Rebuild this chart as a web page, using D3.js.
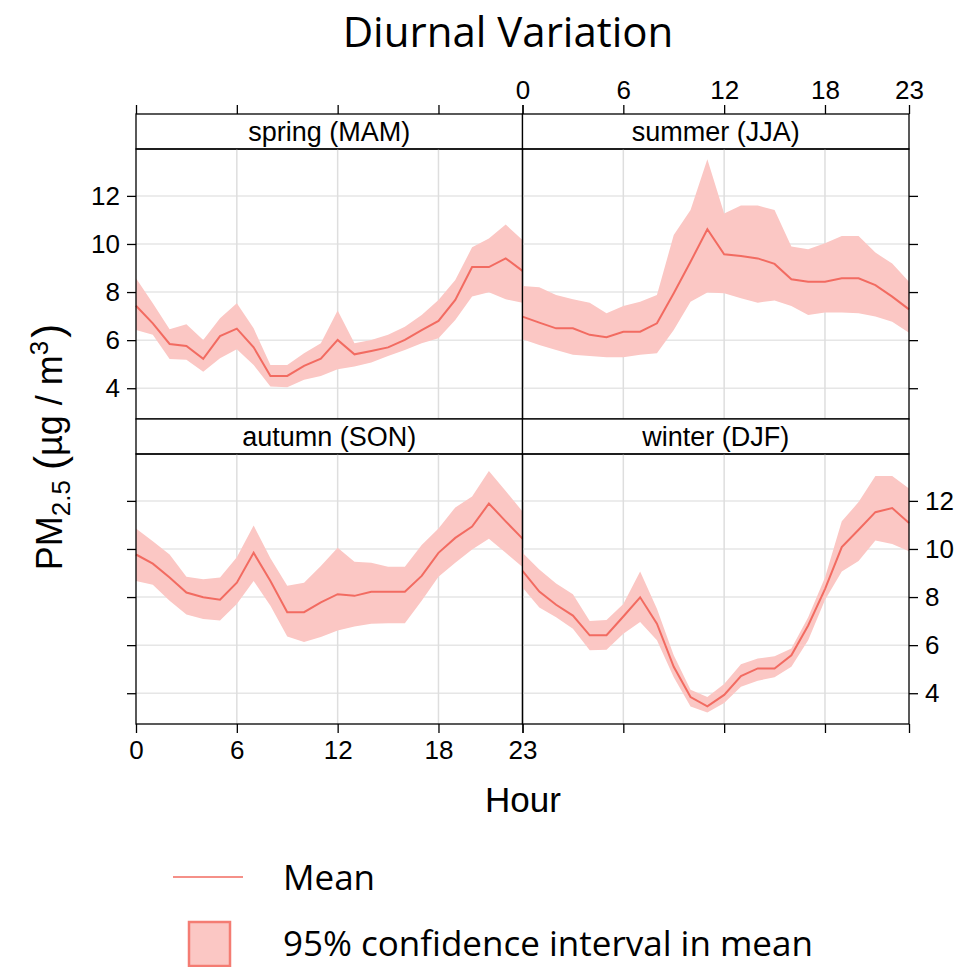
<!DOCTYPE html>
<html>
<head>
<meta charset="utf-8">
<script src="https://cdn.jsdelivr.net/npm/d3@7"></script>
<style>
  body { margin: 0; background: #fff; }
  svg { display: block; }
</style>
</head>
<body>
<div id="chart"></div>
<script>
// hours of the day
let hours = [0, 1, 2, 3, 4, 5, 6, 7, 8, 9, 10, 11, 12, 13, 14, 15, 16, 17, 18, 19, 20, 21, 22, 23];

// season names (strip labels)
let seasons = ["spring (MAM)", "summer (JJA)", "autumn (SON)", "winter (DJF)"];

// PM2.5 mean and 95% CI
let springMean  = [7.43, 6.70, 5.84, 5.76, 5.22, 6.17, 6.48, 5.70, 4.51, 4.51, 4.93, 5.23, 6.01, 5.41, 5.55, 5.70, 6.01, 6.42, 6.80, 7.67, 9.04, 9.04, 9.40, 8.88];
let springLower = [6.42, 6.22, 5.22, 5.18, 4.69, 5.25, 5.62, 4.97, 4.07, 4.04, 4.35, 4.51, 4.79, 4.90, 5.07, 5.34, 5.59, 5.87, 6.08, 6.84, 7.81, 7.99, 7.70, 7.56];
let springUpper = [8.57, 7.53, 6.45, 6.66, 6.01, 6.91, 7.53, 6.49, 4.97, 4.97, 5.45, 5.87, 7.23, 5.87, 6.01, 6.22, 6.56, 7.05, 7.67, 8.50, 9.86, 10.23, 10.81, 10.16];

let summerMean  = [6.98, 6.73, 6.49, 6.49, 6.22, 6.12, 6.35, 6.35, 6.70, 7.95, 9.26, 10.61, 9.57, 9.50, 9.40, 9.17, 8.53, 8.43, 8.43, 8.57, 8.57, 8.29, 7.81, 7.28];
let summerLower = [6.04, 5.80, 5.59, 5.39, 5.34, 5.29, 5.29, 5.39, 5.45, 6.42, 7.60, 7.98, 7.95, 7.74, 7.56, 7.65, 7.42, 7.05, 7.15, 7.15, 7.12, 6.98, 6.77, 6.31];
let summerUpper = [8.25, 8.20, 7.88, 7.70, 7.56, 7.12, 7.42, 7.60, 7.88, 10.37, 11.41, 13.52, 11.27, 11.60, 11.60, 11.41, 9.89, 9.78, 10.03, 10.33, 10.33, 9.64, 9.19, 8.43];

let autumnMean  = [9.77, 9.39, 8.81, 8.19, 7.99, 7.89, 8.60, 9.84, 8.67, 7.37, 7.37, 7.78, 8.12, 8.05, 8.22, 8.22, 8.22, 8.88, 9.84, 10.46, 10.93, 11.89, 11.15, 10.43];
let autumnLower = [8.67, 8.51, 7.85, 7.27, 7.09, 7.02, 7.71, 8.67, 7.64, 6.36, 6.13, 6.34, 6.61, 6.78, 6.89, 6.91, 6.91, 7.85, 8.84, 9.43, 9.98, 10.43, 9.84, 9.25];
let autumnUpper = [10.85, 10.32, 9.77, 8.84, 8.74, 8.81, 9.66, 10.98, 9.61, 8.47, 8.60, 9.29, 10.05, 9.47, 9.43, 9.26, 9.26, 10.16, 10.85, 11.73, 12.18, 13.24, 12.41, 11.56];

let winterMean  = [9.09, 8.23, 7.68, 7.23, 6.41, 6.41, 7.19, 7.99, 6.89, 5.10, 3.84, 3.45, 3.93, 4.71, 5.03, 5.03, 5.58, 6.82, 8.33, 10.08, 10.80, 11.53, 11.70, 11.08];
let winterLower = [8.40, 7.57, 7.16, 6.68, 5.79, 5.81, 6.47, 6.96, 6.20, 4.66, 3.45, 3.20, 3.59, 4.27, 4.52, 4.66, 5.10, 6.20, 7.88, 9.06, 9.50, 10.35, 10.21, 9.91];
let winterUpper = [9.84, 9.15, 8.56, 8.12, 7.00, 7.05, 7.71, 9.06, 7.51, 5.58, 4.14, 3.84, 4.38, 5.21, 5.44, 5.54, 5.86, 7.16, 8.81, 11.15, 11.95, 13.04, 13.04, 12.52];

// ticks
let hourTicks = [0, 6, 12, 18, 23];
let valueTicks = [4, 6, 8, 10, 12];

let lineColor = "#f26b61";
let bandColor = "#fbc7c4";
let axisFont = "Liberation Sans, Arial, sans-serif";
let textFont = "Open Sans, Noto Sans, sans-serif";

// layout
let width = 968, height = 967;
let panelLeft = 136, panelW = 386.5;
let rowTop = [114, 419];   // strip tops
let stripH = 35, panelH = 270;

let svg = d3.select("#chart").append("svg")
	.attr("width", width)
	.attr("height", height);

let x = d3.scaleLinear().domain([0, 23]).range([0, panelW]);
let y = d3.scaleLinear().domain([2.72, 13.95]).range([panelH, 0]);

let seriesMean = [springMean, summerMean, autumnMean, winterMean];
let seriesLower = [springLower, summerLower, autumnLower, winterLower];
let seriesUpper = [springUpper, summerUpper, autumnUpper, winterUpper];

let panels = seasons.map((s, i) => ({
	name: s,
	col: i % 2,
	row: Math.floor(i / 2),
	values: hours.map((h, j) => ({ hour: h, mean: seriesMean[i][j], lower: seriesLower[i][j], upper: seriesUpper[i][j] }))
}));

let area = d3.area()
	.x(d => x(d.hour))
	.y0(d => y(d.lower))
	.y1(d => y(d.upper));

let line = d3.line()
	.x(d => x(d.hour))
	.y(d => y(d.mean));

function styleAxis(g) {
	g.select(".domain").remove();
	g.attr("font-family", axisFont).attr("font-size", 26);
	g.selectAll(".tick line").attr("stroke", "#000").attr("stroke-width", 1.3);
	g.selectAll(".tick text").attr("fill", "#000");
}

panels.forEach(p => {
	let px = panelLeft + p.col * panelW;
	let sy = rowTop[p.row];
	let py = sy + stripH;

	// strip
	svg.append("rect")
		.attr("x", px).attr("y", sy)
		.attr("width", panelW).attr("height", stripH)
		.attr("fill", "#fff").attr("stroke", "#000").attr("stroke-width", 1.3);
	svg.append("text")
		.attr("x", px + panelW / 2).attr("y", sy + stripH / 2 + 9.5)
		.attr("text-anchor", "middle")
		.attr("font-family", axisFont).attr("font-size", 27)
		.text(p.name);

	let g = svg.append("g").attr("transform", "translate(" + px + "," + py + ")");

	// grid
	g.selectAll(".hgrid").data(valueTicks).enter().append("line")
		.attr("x1", 0).attr("x2", panelW)
		.attr("y1", d => y(d)).attr("y2", d => y(d))
		.attr("stroke", "#e6e6e6").attr("stroke-width", 1.5);
	g.selectAll(".vgrid").data([6, 12, 18]).enter().append("line")
		.attr("y1", 0).attr("y2", panelH)
		.attr("x1", d => x(d)).attr("x2", d => x(d))
		.attr("stroke", "#dedede").attr("stroke-width", 1.5);

	// confidence band and mean
	g.append("path").datum(p.values)
		.attr("d", area)
		.attr("fill", bandColor);
	g.append("path").datum(p.values)
		.attr("d", line)
		.attr("fill", "none")
		.attr("stroke", lineColor)
		.attr("stroke-width", 2);

	// border
	g.append("rect")
		.attr("width", panelW).attr("height", panelH)
		.attr("fill", "none").attr("stroke", "#000").attr("stroke-width", 1.3);

	// axes
	if (p.row === 0) {
		svg.append("g")
			.attr("transform", "translate(" + px + "," + sy + ")")
			.call(d3.axisTop(x).tickValues(hourTicks).tickSize(9).tickPadding(6)
				.tickFormat(p.col === 1 ? d3.format("d") : ""))
			.call(styleAxis);
	} else {
		g.append("g")
			.attr("transform", "translate(0," + panelH + ")")
			.call(d3.axisBottom(x).tickValues(hourTicks).tickSize(9).tickPadding(8)
				.tickFormat(p.col === 0 ? d3.format("d") : ""))
			.call(styleAxis);
	}
	if (p.col === 0) {
		g.append("g")
			.call(d3.axisLeft(y).tickValues(valueTicks).tickSize(9).tickPadding(7)
				.tickFormat(p.row === 0 ? d3.format("d") : ""))
			.call(styleAxis);
	} else {
		g.append("g")
			.attr("transform", "translate(" + panelW + ",0)")
			.call(d3.axisRight(y).tickValues(valueTicks).tickSize(9).tickPadding(7)
				.tickFormat(p.row === 1 ? d3.format("d") : ""))
			.call(styleAxis);
	}
});

// title
svg.append("text")
	.attr("x", 508).attr("y", 47)
	.attr("text-anchor", "middle")
	.attr("font-family", textFont).attr("font-size", 42)
	.text("Diurnal Variation");

// x label
svg.append("text")
	.attr("x", 523).attr("y", 812)
	.attr("text-anchor", "middle")
	.attr("font-family", axisFont).attr("font-size", 35)
	.text("Hour");

// y label
let ylab = svg.append("text")
	.attr("transform", "translate(62,447) rotate(-90)")
	.attr("text-anchor", "middle")
	.attr("font-family", axisFont).attr("font-size", 36);
ylab.append("tspan").text("PM");
ylab.append("tspan").attr("font-size", 26).attr("dy", 8).text("2.5");
ylab.append("tspan").attr("font-size", 42).attr("dy", -6).attr("dx", 10).text("(");
ylab.append("tspan").attr("dy", -2).text("µg / m");
ylab.append("tspan").attr("font-size", 26).attr("dy", -14).text("3");
ylab.append("tspan").attr("font-size", 42).attr("dy", 14).attr("dx", 3).text(")");

// legend
let legend = svg.append("g");
legend.append("line")
	.attr("x1", 173).attr("x2", 243)
	.attr("y1", 877).attr("y2", 877)
	.attr("stroke", lineColor).attr("stroke-width", 1.5);
legend.append("text")
	.attr("x", 283).attr("y", 890)
	.attr("font-family", textFont).attr("font-size", 35)
	.text("Mean");
legend.append("rect")
	.attr("x", 189).attr("y", 922)
	.attr("width", 41).attr("height", 44)
	.attr("fill", bandColor)
	.attr("stroke", "#f47c73").attr("stroke-width", 2.5);
legend.append("text")
	.attr("x", 283).attr("y", 956)
	.attr("font-family", textFont).attr("font-size", 35)
	.text("95% confidence interval in mean");
</script>
</body>
</html>
